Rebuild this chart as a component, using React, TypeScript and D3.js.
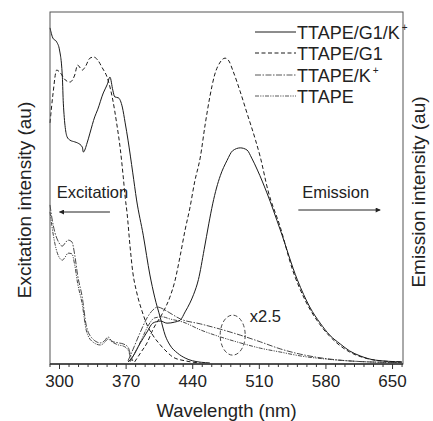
import React from 'react';
import * as d3 from 'd3';

const W = 433;
const H = 421;
const margin = {left: 50, right: 30, top: 12, bottom: 57};

const xTicks = [300, 370, 440, 510, 580, 650];
const xMinor = d3.range(290, 661, 10);

// [wavelength (nm), intensity (au)]
const exG1K: [number, number][] = [
    [290, 95.5], [293, 92.6], [297, 91.5], [300, 89.2], [303, 81.5], [304, 74.1], [308, 64.5], [311, 63.6],
    [316, 63.1], [319, 62.8], [324, 61.6], [325, 60.2], [329, 62.8], [332, 65.6], [337, 70.2], [340, 72.2],
    [346, 77.0], [350, 79.3], [353, 81.5], [356, 77.8], [358, 75.9], [362, 75.6], [366, 73.0], [369, 68.5],
    [372, 63.6], [377, 54.3], [381, 46.6], [388, 36.6], [395, 25.3], [400, 19.0], [406, 13.1], [411, 8.2],
    [416, 5.4], [424, 3.1], [432, 1.7], [440, 0.9], [458, 0.3]
];
const emG1K: [number, number][] = [
    [372, 0.6], [376, 1.7], [385, 6.0], [392, 9.1], [398, 11.6], [406, 12.2], [413, 11.6], [421, 11.9],
    [427, 12.5], [432, 14.8], [437, 17.3], [441, 19.8], [446, 24.0], [452, 32.5], [457, 40.0], [461, 45.5],
    [465, 50.0], [469, 53.5], [476, 57.8], [482, 60.6], [490, 61.4], [497, 60.8], [502, 58.5], [508, 55.1],
    [518, 48.6], [532, 38.1], [550, 23.9], [563, 16.2], [574, 11.6], [584, 8.2], [595, 5.7], [605, 3.7],
    [616, 2.3], [632, 1.1], [660, 0.6]
];
const exG1: [number, number][] = [
    [290, 68.5], [293, 76.4], [297, 83.5], [300, 83.0], [306, 80.7], [311, 80.1], [316, 82.1], [319, 84.9],
    [324, 83.5], [327, 84.4], [332, 86.9], [336, 87.2], [340, 86.4], [345, 84.1], [350, 81.5], [353, 78.7],
    [356, 75.0], [360, 68.5], [364, 60.8], [367, 53.1], [369, 47.4], [371, 42.9], [374, 33.8], [377, 26.1],
    [381, 20.5], [387, 14.8], [392, 11.1], [398, 8.2], [406, 5.4], [413, 3.4], [419, 2.0], [432, 0.9], [448, 0.3]
];
const emG1: [number, number][] = [
    [379, 0.6], [385, 3.1], [392, 6.0], [398, 9.7], [409, 14.8], [416, 19.0], [421, 23.3], [427, 31.0],
    [432, 38.1], [437, 44.3], [442, 51.7], [448, 58.8], [453, 67.9], [458, 75.9], [463, 82.1], [469, 85.8],
    [474, 86.9], [478, 86.1], [482, 83.5], [490, 77.3], [497, 71.3], [506, 63.6], [511, 58.8], [519, 49.4],
    [532, 38.9], [545, 26.7], [558, 18.2], [574, 11.1], [590, 6.3], [605, 3.4], [621, 1.7], [637, 0.9], [660, 0.6]
];
const exK: [number, number][] = [
    [290, 45.2], [292, 41.5], [295, 37.5], [298, 35.2], [303, 33.5], [306, 34.4], [309, 35.2], [313, 34.7],
    [316, 31.0], [319, 25.3], [324, 18.8], [328, 11.1], [334, 7.4], [343, 6.0], [347, 6.5], [351, 7.7],
    [355, 6.5], [362, 6.0], [367, 5.7], [372, 4.8], [375, 2.3], [377, 0.9]
];
const emK: [number, number][] = [
    [372, 0.9], [377, 4.0], [385, 9.1], [392, 13.1], [398, 15.3], [403, 16.2], [409, 15.6], [416, 14.5],
    [427, 12.8], [448, 11.4], [469, 9.9], [490, 8.2], [511, 6.3], [532, 4.3], [553, 2.8], [584, 1.4],
    [616, 0.7], [660, 0.4]
];
const exTTAPE: [number, number][] = [
    [290, 43.2], [292, 39.2], [295, 34.4], [298, 31.3], [303, 29.5], [306, 30.4], [309, 31.5], [313, 31.3],
    [316, 28.1], [319, 23.0], [324, 16.8], [328, 9.7], [334, 6.5], [343, 5.4], [347, 6.0], [351, 7.1],
    [355, 6.3], [362, 5.4], [367, 5.1], [372, 4.0], [375, 1.7], [377, 0.6]
];
const emTTAPE: [number, number][] = [
    [374, 0.6], [379, 3.1], [387, 7.4], [393, 10.8], [400, 13.1], [408, 13.4], [416, 12.8], [430, 11.9],
    [448, 9.7], [469, 7.7], [490, 6.0], [511, 4.5], [532, 3.4], [553, 2.3], [584, 1.3], [616, 0.7], [660, 0.4]
];

const legendNames = ['TTAPE/G1/K+', 'TTAPE/G1', 'TTAPE/K+', 'TTAPE'];
const dashes = ['none', '4,2.5', '6,1.5,1.5,1.5', '4,1.2,1.2,1.2,1.2,1.2'];
const seriesData = [[exG1K, emG1K], [exG1, emG1], [exK, emK], [exTTAPE, emTTAPE]];

const font = '"Liberation Sans", Arial, sans-serif';

function Label({name, x, y}) {
    // a trailing "+" is drawn as superscript
    if (name.endsWith('+')) {
        return (
            <text x={x} y={y} fontSize={18} fontFamily={font} fill="#222">
                {name.slice(0, -1)}
                <tspan fontSize={10} dy={-8} dx={2}>+</tspan>
            </text>
        );
    }
    return <text x={x} y={y} fontSize={18} fontFamily={font} fill="#222">{name}</text>;
}

export default function App() {
    const x = d3.scaleLinear().domain([290, 661]).range([margin.left, W - margin.right]);
    const y = d3.scaleLinear().domain([0, 100]).range([H - margin.bottom, margin.top]);
    const line = d3.line<[number, number]>()
        .x(d => x(d[0]))
        .y(d => y(d[1]))
        .curve(d3.curveMonotoneX);

    const x0 = margin.left, x1 = W - margin.right;
    const y0 = H - margin.bottom, y1 = margin.top;

    return (
        <svg width={W} height={H} style={{position: 'absolute', left: 0, top: 0, background: '#fff'}}>
            <defs>
                <marker id="arrow" viewBox="0 0 10 10" refX="9" refY="5" markerWidth="7" markerHeight="5" orient="auto">
                    <path d="M0,0 L10,5 L0,10 z" fill="#222" />
                </marker>
            </defs>

            {seriesData.map((pair, i) => pair.map((d, j) => (
                <path key={i + '-' + j} d={line(d)} fill="none"
                      stroke={i < 2 ? '#1a1a1a' : '#333'} strokeWidth={i < 2 ? 1 : 0.9}
                      strokeDasharray={dashes[i]} />
            )))}

            {/* frame */}
            <rect x={x0} y={y1} width={x1 - x0} height={y0 - y1} fill="none" stroke="#555" strokeWidth={1} />
            <line x1={x0} x2={x1} y1={y0} y2={y0} stroke="#333" strokeWidth={1.6} />
            {xMinor.map(t => (
                <line key={'m' + t} x1={x(t)} x2={x(t)} y1={y0} y2={y0 + (xTicks.includes(t) ? 5 : 3)}
                      stroke="#333" strokeWidth={1} />
            ))}
            {xTicks.map(t => (
                <text key={'t' + t} x={x(t)} y={387} textAnchor="middle" fontSize={17} fontFamily={font} fill="#222">{t}</text>
            ))}

            <text x={(x0 + x1) / 2} y={417} textAnchor="middle" fontSize={18.5} fontFamily={font} fill="#222">Wavelength (nm)</text>
            <text transform={`translate(31,200) rotate(-90)`} textAnchor="middle" fontSize={19} fontFamily={font} fill="#222">Excitation intensity (au)</text>
            <text transform={`translate(425,192) rotate(-90)`} textAnchor="middle" fontSize={19} fontFamily={font} fill="#222">Emission intensity (au)</text>

            {/* legend */}
            {legendNames.map((n, i) => {
                const ly = [32, 53, 75, 96][i];
                return (
                    <g key={n}>
                        <line x1={255} x2={296} y1={ly} y2={ly} stroke={i < 2 ? '#1a1a1a' : '#444'}
                              strokeWidth={i < 2 ? 1 : 0.9} strokeDasharray={dashes[i]} />
                        <Label name={n} x={297} y={ly + 6.5} />
                    </g>
                );
            })}

            {/* annotations */}
            <text x={x(297)} y={198} fontSize={16.5} fontFamily={font} fill="#222">Excitation</text>
            <line x1={x(353)} x2={x(300)} y1={212} y2={212} stroke="#222" strokeWidth={1} markerEnd="url(#arrow)" />
            <text x={x(555)} y={198} fontSize={16.5} fontFamily={font} fill="#222">Emission</text>
            <line x1={x(551)} x2={x(637)} y1={210} y2={210} stroke="#222" strokeWidth={1} markerEnd="url(#arrow)" />
            <ellipse cx={x(482)} cy={y(8.2)} rx={12.5} ry={20} fill="none" stroke="#333" strokeWidth={0.9} strokeDasharray="4,2.5" />
            <text x={x(500)} y={y(11.9)} fontSize={16.5} fontFamily={font} fill="#222">x2.5</text>
        </svg>
    );
}
